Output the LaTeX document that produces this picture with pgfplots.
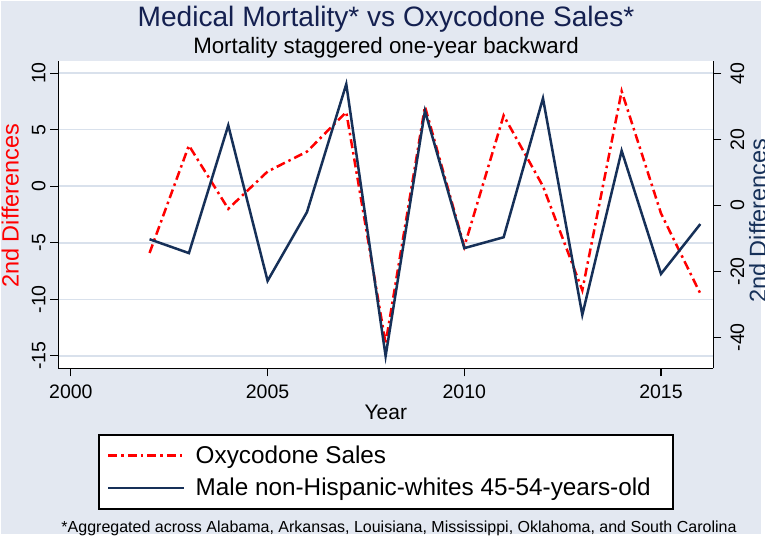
\documentclass[border=0pt]{standalone}
\usepackage{pgfplots}
\pgfplotsset{compat=1.18}
\usepackage{fontspec}
\setmainfont{Liberation Sans}
\definecolor{bgcol}{RGB}{227,232,241}
\definecolor{gridcol}{RGB}{217,225,236}
\definecolor{navyline}{RGB}{22,48,88}
\definecolor{titlecol}{RGB}{20,32,80}
\begin{document}
\begin{tikzpicture}[x=1bp,y=1bp]
\useasboundingbox (0,0) rectangle (765,538);
\fill[white] (0,0) rectangle (765,538);
\fill[bgcol] (1,3.7) rectangle (760.7,537);
\filldraw[fill=white, draw=black, line width=1.2bp] (99,29) rectangle (673,103);
\node[anchor=base, font=\fontsize{28.1bp}{30bp}\selectfont, text=titlecol] at (386,511) {Medical Mortality* vs Oxycodone Sales*};
\node[anchor=base, font=\fontsize{22.3bp}{26bp}\selectfont] at (386,484) {Mortality staggered one-year backward};
\node[anchor=base, font=\fontsize{16bp}{18bp}\selectfont] at (399,5.3) {*Aggregated across Alabama, Arkansas, Louisiana, Mississippi, Oklahoma, and South Carolina};

\begin{axis}[
  at={(58.3bp,169.7bp)}, anchor=south west,
  scale only axis, width=655bp, height=307.6bp,
  xmin=1999.68, xmax=2016.33, ymin=-16.1, ymax=11.1,
  axis x line*=bottom, axis y line*=left,
  axis line style={-, black, line width=1.2bp},
  axis background/.style={fill=white},
  xtick={2000,2005,2010,2015}, xticklabels={2000,2005,2010,2015},
  ytick={-15,-10,-5,0,5,10}, yticklabels={-15,-10,-5,0,5,10},
  tick align=outside, major tick length=8bp,
  tick style={black, line width=1.2bp},
  ymajorgrids, grid style={gridcol, line width=1.6bp},
  xticklabel style={font=\fontsize{19.5bp}{22bp}\selectfont, anchor=base, yshift=-22.7bp},
  yticklabel style={font=\fontsize{19.5bp}{22bp}\selectfont, /tikz/xshift=-5bp, rotate=90, anchor=base},
  xlabel={Year},
  every axis x label/.style={at={(axis description cs:0.5,0)}, anchor=base, yshift=-51.7bp, font=\fontsize{21bp}{24bp}\selectfont},
  ylabel={2nd Differences},
  every axis y label/.style={at={(axis description cs:0,0.5)}, anchor=base, /tikz/xshift=-39.6bp, /tikz/yshift=8.7bp, rotate=90, font=\fontsize{23.5bp}{26bp}\selectfont, text=red},
]
\addplot[red, line width=2.5bp, dash pattern=on 9bp off 4bp on 2.5bp off 4bp] coordinates {
(2002,-5.9) (2003,3.6) (2004,-2.0) (2005,1.3) (2006,3.06) (2007,6.55) (2008,-13.9) (2009,7.05)
(2010,-5.35) (2011,6.25) (2012,0.0) (2013,-9.2) (2014,8.4) (2015,-2.4) (2016,-9.5)};
\end{axis}

\begin{axis}[
  at={(58.3bp,169.7bp)}, anchor=south west,
  scale only axis, width=655bp, height=307.6bp,
  xmin=1999.68, xmax=2016.33, ymin=-49.4, ymax=43.8,
  axis x line=none, axis y line*=right,
  axis line style={-, black, line width=1.2bp},
  ytick={-40,-20,0,20,40}, yticklabels={-40,-20,0,20,40},
  tick align=outside, major tick length=8bp,
  tick style={black, line width=1.2bp},
  yticklabel style={font=\fontsize{19.5bp}{22bp}\selectfont, /tikz/xshift=22.7bp, rotate=90, anchor=base},
  ylabel={2nd Differences},
  every axis y label/.style={at={(axis description cs:1,0.5)}, anchor=base, /tikz/xshift=52.7bp, /tikz/yshift=-6.2bp, rotate=90, font=\fontsize{23.5bp}{26bp}\selectfont, text=navyline},
  legend image code/.code={\draw[#1] (0bp,0bp) -- (76bp,0bp);},
  legend cell align=left,
  legend style={at={(axis description cs:0.07435,-0.3356)}, anchor=west, draw=none, fill=none,
    inner sep=0pt, row sep=13.4bp, nodes={inner sep=0pt},
    /tikz/every odd column/.style={column sep=10bp},
    font=\fontsize{24.3bp}{27bp}\selectfont},
]
\addlegendimage{red, line width=2.5bp, dash pattern=on 9bp off 4bp on 2.5bp off 4bp}
\addlegendentry{Oxycodone Sales}
\addplot[navyline, line width=2.5bp] coordinates {
(2002,-10.3) (2003,-14.5) (2004,24.2) (2005,-22.9) (2006,-2.1) (2007,36.7) (2008,-45.7) (2009,28.6)
(2010,-13.0) (2011,-9.7) (2012,32.4) (2013,-33.2) (2014,16.5) (2015,-20.8) (2016,-5.7)};
\addlegendentry{Male non-Hispanic-whites 45-54-years-old}
\end{axis}
\end{tikzpicture}
\end{document}
